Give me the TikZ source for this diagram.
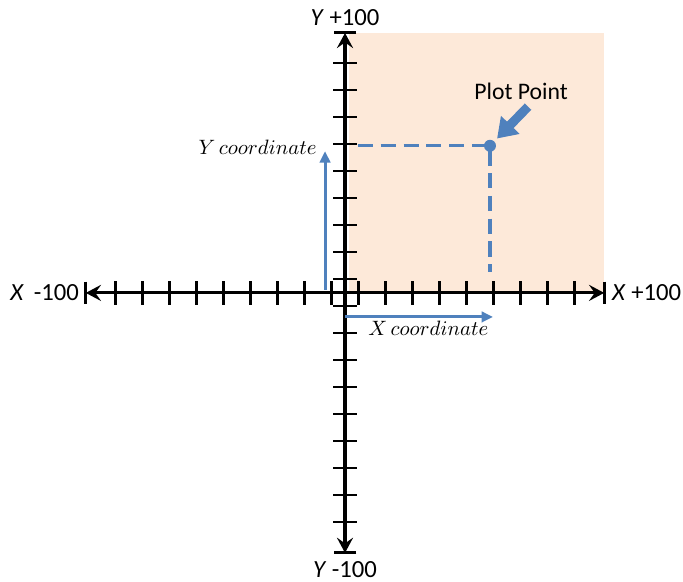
\documentclass[tikz,border=0pt]{standalone}
\usepackage{fontspec}
\newfontfamily\calibri{Carlito}
\usepackage{tikz}
\usetikzlibrary{arrows.meta, positioning, calc}
\definecolor{plotblue}{RGB}{79, 129, 189}
\definecolor{quadpeach}{RGB}{253, 233, 217}

\begin{document}
\begin{tikzpicture}[x=0.5cm, y=0.5cm,
  axisline/.style={line width=1.6pt, {Stealth[length=8pt, width=8.5pt, inset=3pt]}-{Stealth[length=8pt, width=8.5pt, inset=3pt]}},
  axisend/.style={line width=1.6pt},
  tickmark/.style={line width=1.1pt},
  axislabel/.style={font=\calibri\fontsize{13}{15}\selectfont, inner sep=2pt},
  guide/.style={plotblue, line width=1.6pt, dash pattern=on 8pt off 4pt},
  coordarrow/.style={plotblue, line width=1.6pt, -{Triangle[length=6pt, width=5.5pt]}},
  coordlabel/.style={font=\fontsize{11}{13}\selectfont, inner sep=0pt},
  dot/.style={circle, fill=plotblue, minimum size=6.3pt, inner sep=0pt},
  callout/.style={plotblue, line width=4.8pt, -{Triangle[length=10pt, width=13pt]}}
]
  \useasboundingbox (-12.78,-10.70) rectangle (12.52,10.85);
  \fill[quadpeach] (0.15,0) rectangle (9.6,9.63);

  \coordinate (xmin) at (-9.6,0);
  \coordinate (xmax) at (9.6,0);
  \coordinate (ymin) at (0,-9.63);
  \coordinate (ymax) at (0,9.63);

  \foreach \t in {0.5,1.5,...,8.5} {
    \draw[tickmark] (\t,-0.44) -- (\t,0.44);
    \draw[tickmark] (-\t,-0.44) -- (-\t,0.44);
    \draw[tickmark] (-0.44,\t) -- (0.44,\t);
    \draw[tickmark] (-0.44,-\t) -- (0.44,-\t);
  }
  \draw[axisline] (xmin) -- (xmax);
  \draw[axisline] (ymin) -- (ymax);
  \draw[axisend] ($(xmin)+(0,0.42)$) -- ($(xmin)-(0,0.42)$);
  \draw[axisend] ($(xmax)+(0,0.42)$) -- ($(xmax)-(0,0.42)$);
  \draw[axisend] ($(ymin)+(0.42,0)$) -- ($(ymin)-(0.42,0)$);
  \draw[axisend] ($(ymax)+(0.42,0)$) -- ($(ymax)-(0.42,0)$);

  \node[axislabel, left=1.5pt of xmin] (xminlab) {\textit{X}\hspace{0.4em}-100};
  \node[axislabel, right=2pt of xmax] (xmaxlab) {\textit{X} +100};
  \node[axislabel, above=1.5pt of ymax] (ymaxlab) {\textit{Y} +100};
  \node[axislabel, below=2.5pt of ymin] (yminlab) {\textit{Y} -100};

  \coordinate (ppc) at (5.37,5.45);
  \coordinate (hfrom) at (0.48,5.45);
  \coordinate (vto) at (5.37,0.78);
  \draw[guide] (hfrom) -- (ppc) -- (vto);
  \node[dot] (pp) at (ppc) {};

  \node[font=\calibri\fontsize{12.5}{14}\selectfont] (pplabel) at (6.52,7.48) {Plot Point};
  \coordinate (ppfrom) at (6.78,6.9);
  \draw[callout, shorten >=2pt] (ppfrom) -- (pp);

  \coordinate (yfrom) at (-0.74,0.11);
  \coordinate (yto) at (-0.74,5.25);
  \draw[coordarrow] (yfrom) -- (yto);
  \node[coordlabel, anchor=base east] (ylab) at (-1.04,5.11) {$Y\,coordinate$};

  \coordinate (xfrom) at (0,-0.89);
  \coordinate (xto) at (5.48,-0.89);
  \draw[coordarrow] (xfrom) -- (xto);
  \node[coordlabel, anchor=base west] (xlab) at (0.85,-1.56) {$X\,coordinate$};
\end{tikzpicture}
\end{document}
